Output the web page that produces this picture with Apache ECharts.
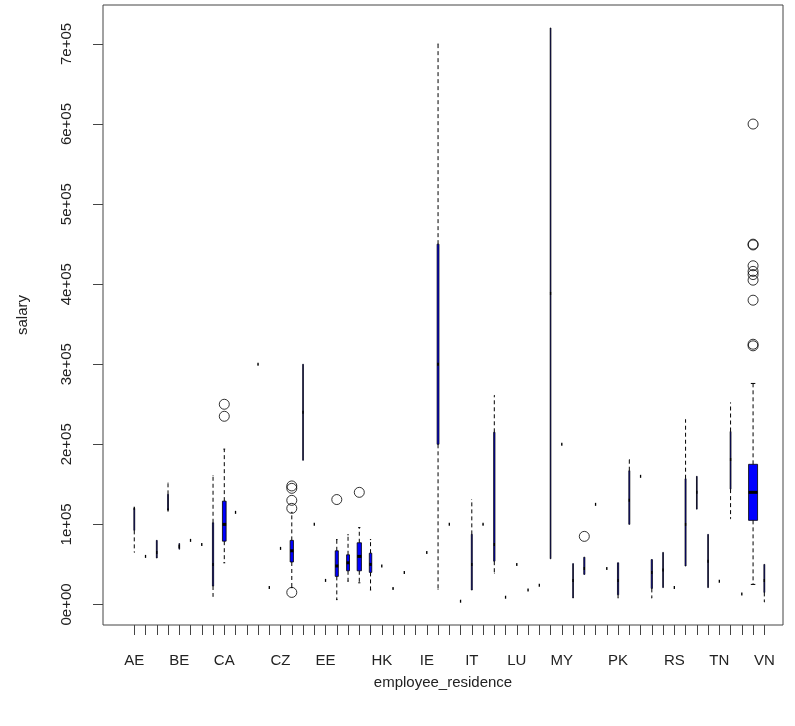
<!DOCTYPE html>
<html>
<head>
<meta charset="utf-8">
<script src="https://cdn.jsdelivr.net/npm/echarts@6/dist/echarts.min.js"></script>
<style>
  html, body { margin: 0; padding: 0; background: #fff; }
  #chart { width: 795px; height: 726px; }
</style>
</head>
<body>
<div id="chart"></div>
<script>
// Salary by employee residence (box-and-whisker, width ~ sqrt(group size))
const countries = ['AE','AR','AT','AU','BE','BG','BO','BR','CA','CH','CL','CN','CO','CZ','DE','DK','DZ','EE','ES','FR',
  'GB','GR','HK','HN','HR','HU','IE','IN','IQ','IR','IT','JE','JP','KE','LU','MD','MT','MX','MY','NG',
  'NL','NZ','PH','PK','PL','PR','PT','RO','RS','RU','SG','SI','TN','TR','UA','US','VN'];

// five-number summaries (null = no observations in range)
const whiskerLow = [65000,60000,58000,118000,69000,80000,75000,10000,52000,115000,null,300000,21000,70000,21000,180000,100000,30000,6000,29000,
  27000,18000,48000,20000,40000,null,65000,19000,100000,4000,18000,100000,39000,9000,50000,18000,24000,57000,200000,8000,
  37500,125000,45000,8000,100000,160000,8000,21000,21000,48000,119000,21000,29000,107000,13000,25000,3000];
const lowerHinge = [92500,60000,58000,118000,69000,80000,75000,23000,79000,115000,null,300000,21000,70000,53000,180000,100000,30000,35000,42000,
  42000,40000,48000,20000,40000,null,65000,200000,100000,4000,18000,100000,54000,9000,50000,18000,24000,57000,200000,8000,
  37500,125000,45000,12000,100000,160000,20000,21000,21000,48000,119000,21000,29000,144000,13000,105000,15000];
const median = [120000,60000,65000,118000,72500,80000,75000,50000,100000,115000,null,300000,21000,70000,67000,240000,100000,30000,48000,52000,
  60000,50000,48000,20000,40000,null,65000,300000,100000,4000,50000,100000,75000,9000,50000,18000,24000,388500,200000,30000,
  45000,125000,45000,30000,130000,160000,40000,43000,21000,100000,140000,54000,29000,181000,13000,140000,30000];
const upperHinge = [120000,60000,80000,137500,76000,80000,75000,102000,129000,115000,null,300000,21000,70000,80000,300000,100000,30000,67000,62000,
  77000,64000,48000,20000,40000,null,65000,450000,100000,4000,87500,100000,215000,9000,50000,18000,24000,720000,200000,51000,
  59000,125000,45000,52000,167000,160000,56000,65000,21000,157000,160000,87500,29000,216000,13000,175000,50000];
const whiskerHigh = [120000,60000,80000,152000,76000,80000,75000,161000,194000,115000,null,300000,21000,70000,115000,300000,100000,30000,81000,87000,
  96000,81000,48000,20000,40000,null,65000,700000,100000,4000,131000,100000,261000,9000,50000,18000,24000,720000,200000,51000,
  59000,125000,45000,52000,181000,160000,56000,65000,21000,231000,160000,87500,29000,252000,13000,276000,50000];
const groupSize = [3,1,3,3,2,1,1,6,56,1,0,1,1,1,45,2,1,1,40,35,
  76,25,1,1,1,0,1,14,1,1,4,1,7,1,1,1,1,2,1,2,
  5,1,1,6,4,1,6,2,1,4,2,2,1,3,1,332,3];

// points beyond the whiskers
const outlierCountry = ['CA','CA','DE','DE','DE','DE','DE','ES','GB','NL',
  'US','US','US','US','US','US','US','US','US','US'];
const outlierSalary = [235000,250000,15000,120000,130000,145000,148000,131000,140000,85000,
  600000,450000,449000,423000,416000,412000,405000,380000,325000,323000];

// tick labels that fit along the category axis
const shownLabels = ['AE','BE','CA','CZ','EE','HK','IE','IT','LU','MY','PK','RS','TN','VN'];
const salaryTicks = [0,100000,200000,300000,400000,500000,600000,700000];

const boxRows = [];
countries.forEach((c, i) => {
  if (whiskerLow[i] === null) return;
  boxRows.push([i + 1, whiskerLow[i], lowerHinge[i], median[i], upperHinge[i], whiskerHigh[i], groupSize[i]]);
});
const nMax = Math.max.apply(null, groupSize);
const outlierRows = outlierCountry.map((c, k) => [countries.indexOf(c) + 1, outlierSalary[k]]);

function sciLabel(v) {
  if (v === 0) return '0e+00';
  const e = Math.floor(Math.log10(v));
  const m = Math.round(v / Math.pow(10, e));
  return m + 'e' + (e < 0 ? '-' : '+') + String(Math.abs(e)).padStart(2, '0');
}

function renderBox(params, api) {
  const x = api.value(0);
  const lo = api.value(1), q1 = api.value(2), med = api.value(3), q3 = api.value(4), hi = api.value(5), n = api.value(6);
  const bw = api.size([0.8 * Math.sqrt(n / nMax), 0])[0];
  const cx = api.coord([x, med])[0];
  const yLo = api.coord([x, lo])[1], yQ1 = api.coord([x, q1])[1], yMed = api.coord([x, med])[1];
  const yQ3 = api.coord([x, q3])[1], yHi = api.coord([x, hi])[1];
  const ink = '#000';
  const medHalf = Math.max(bw / 2, 0.65);
  const kids = [];
  kids.push({ type: 'rect', shape: { x: cx - bw / 2, y: yQ3, width: bw, height: yQ1 - yQ3 },
    style: { fill: '#0000ff', stroke: ink, lineWidth: 0.8 } });
  kids.push({ type: 'line', shape: { x1: cx - medHalf, y1: yMed, x2: cx + medHalf, y2: yMed },
    style: { stroke: ink, lineWidth: 3, lineCap: 'butt' } });
  if (hi > q3) {
    kids.push({ type: 'line', shape: { x1: cx, y1: yQ3, x2: cx, y2: yHi },
      style: { stroke: ink, lineWidth: 1, lineDash: [4, 3] } });
    kids.push({ type: 'line', shape: { x1: cx - bw / 4, y1: yHi, x2: cx + bw / 4, y2: yHi },
      style: { stroke: ink, lineWidth: 1 } });
  }
  if (lo < q1) {
    kids.push({ type: 'line', shape: { x1: cx, y1: yQ1, x2: cx, y2: yLo },
      style: { stroke: ink, lineWidth: 1, lineDash: [4, 3] } });
    kids.push({ type: 'line', shape: { x1: cx - bw / 4, y1: yLo, x2: cx + bw / 4, y2: yLo },
      style: { stroke: ink, lineWidth: 1 } });
  }
  return { type: 'group', children: kids };
}

const font = "'Liberation Sans', Arial, sans-serif";
const chart = echarts.init(document.getElementById('chart'), null, { renderer: 'canvas' });
chart.setOption({
  animation: false,
  backgroundColor: '#fff',
  grid: { left: 103, top: 5, right: 12, bottom: 101, show: true, borderColor: '#444', borderWidth: 1 },
  xAxis: {
    type: 'value', min: -1.78, max: 58.66,
    name: 'employee_residence', nameLocation: 'middle', nameGap: 50,
    nameTextStyle: { fontFamily: font, fontSize: 15, color: '#222' },
    axisLine: { show: false, onZero: false },
    splitLine: { show: false },
    axisTick: { show: true, length: 10, lineStyle: { color: '#444' },
      customValues: countries.map((c, i) => i + 1) },
    axisLabel: { fontFamily: font, fontSize: 15, color: '#222', margin: 28,
      customValues: shownLabels.map(c => countries.indexOf(c) + 1),
      formatter: v => countries[Math.round(v) - 1] }
  },
  yAxis: {
    type: 'value', min: -25700, max: 748700,
    name: 'salary', nameLocation: 'middle', nameGap: 73, nameRotate: 90,
    nameTextStyle: { fontFamily: font, fontSize: 15, color: '#222' },
    axisLine: { show: false, onZero: false },
    splitLine: { show: false },
    axisTick: { show: true, length: 10, lineStyle: { color: '#444' }, customValues: salaryTicks },
    axisLabel: { fontFamily: font, fontSize: 15, color: '#222', rotate: 90, margin: 29,
      customValues: salaryTicks, formatter: sciLabel }
  },
  series: [
    { type: 'custom', renderItem: renderBox, data: boxRows, encode: { x: 0, y: [1, 2, 3, 4, 5] }, clip: false },
    { type: 'scatter', data: outlierRows, symbol: 'circle', symbolSize: 10,
      itemStyle: { color: 'rgba(0,0,0,0)', borderColor: '#000', borderWidth: 1 } }
  ]
});
</script>
</body>
</html>
